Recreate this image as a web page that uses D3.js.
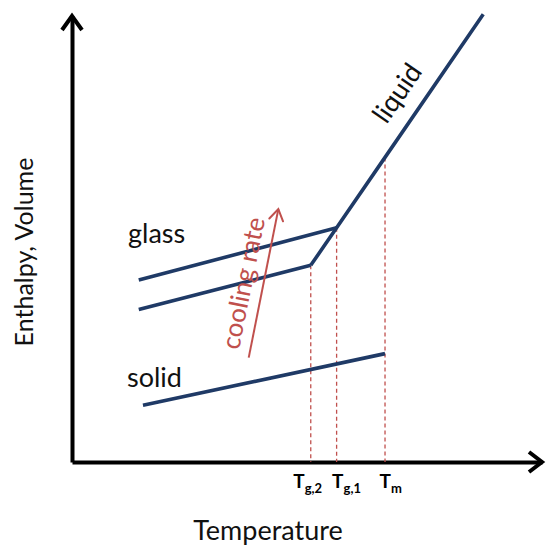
<!DOCTYPE html>
<html>
<head>
<meta charset="utf-8">
<script src="https://cdn.jsdelivr.net/npm/d3@7"></script>
<style>
  html, body { margin: 0; padding: 0; background: #fff; }
  svg { display: block; font-family: Lato, "Open Sans", sans-serif; }
</style>
</head>
<body>
<svg id="chart" width="546" height="546"></svg>
<script>
// Schematic enthalpy / volume vs. temperature for a glass-forming melt.
// Units are arbitrary (0-100 on both axes).

// Characteristic temperatures marked on the x axis
const tickTemps  = [50.8, 56.3, 66.6];
const tickMain   = ["T", "T", "T"];
const tickSub    = ["g,2", "g,1", "m"];

// Liquid branch (supercooled below Tm)
const liquidT = [50.8, 56.3, 66.6, 87.5];
const liquidH = [44.1, 52.5, 68.3, 100.4];

// Glass formed on fast cooling (higher Tg)
const glassFastT = [14.2, 50.8];
const glassFastH = [34.2, 44.1];

// Glass formed on slow cooling
const glassSlowT = [14.2, 56.3];
const glassSlowH = [40.8, 52.5];

// Crystalline solid
const solidT = [15.1, 66.6];
const solidH = [12.7, 24.3];

// Enthalpy at which each dashed guide leaves the curve (Tg,2, Tg,1, Tm)
const guideH = [44.1, 52.5, 68.3];

// "cooling rate" arrow, tail and head
const coolT = [37.6, 43.9];
const coolH = [23.4, 56.7];

const navy = "#1f3a66";
const red  = "#c0504d";

const svg = d3.select("#chart");

const x = d3.scaleLinear().domain([0, 100]).range([72, 542]);
const y = d3.scaleLinear().domain([0, 100]).range([462, 16]);

// ---- axes ----
const xAxisG = svg.append("g")
  .attr("transform", `translate(0,${y(0)})`)
  .call(d3.axisBottom(x).tickValues(tickTemps).tickSize(0).tickSizeOuter(0).tickFormat(""));
xAxisG.select(".domain").attr("stroke", "#000").attr("stroke-width", 4);

const yAxisG = svg.append("g")
  .attr("transform", `translate(${x(0)},0)`)
  .call(d3.axisLeft(y).tickValues([]).tickSizeOuter(0));
yAxisG.select(".domain").attr("stroke", "#000").attr("stroke-width", 4);

// arrowheads on the axes
svg.append("path")
  .attr("d", `M${x(100) - 13},${y(0) - 10} L${x(100)},${y(0)} L${x(100) - 13},${y(0) + 10}`)
  .attr("fill", "none").attr("stroke", "#000").attr("stroke-width", 4);
svg.append("path")
  .attr("d", `M${x(0) - 10},${y(100) + 14} L${x(0)},${y(100)} L${x(0) + 10},${y(100) + 14}`)
  .attr("fill", "none").attr("stroke", "#000").attr("stroke-width", 4);

// tick labels with subscripts
const labelNudge = [-18, -5, -6];
xAxisG.selectAll(".tick").each(function (d, i) {
  const t = d3.select(this).append("text")
    .attr("x", labelNudge[i])
    .attr("y", 26)
    .attr("fill", "#000")
    .attr("text-anchor", "start")
    .attr("font-family", "Lato, sans-serif")
    .attr("font-weight", "bold")
    .attr("font-size", 19);
  t.append("tspan").text(tickMain[i]);
  t.append("tspan").attr("dy", 5).attr("font-size", 13).text(tickSub[i]);
});

// axis titles
svg.append("text")
  .attr("x", 268).attr("y", 540)
  .attr("text-anchor", "middle")
  .attr("font-size", 27)
  .attr("fill", "#111")
  .text("Temperature");

svg.append("text")
  .attr("transform", "translate(33,252) rotate(-90)")
  .attr("text-anchor", "middle")
  .attr("font-size", 25)
  .attr("fill", "#111")
  .text("Enthalpy, Volume");

// ---- dashed guides down to the axis ----
svg.append("g").selectAll("line")
  .data(d3.zip(tickTemps, guideH))
  .join("line")
  .attr("x1", d => x(d[0])).attr("x2", d => x(d[0]))
  .attr("y1", d => y(d[1])).attr("y2", y(0))
  .attr("stroke", red)
  .attr("stroke-width", 1.3)
  .attr("stroke-dasharray", "4,3");

// ---- curves ----
const line = d3.line().x(d => x(d[0])).y(d => y(d[1]));
const curves = [
  d3.zip(liquidT, liquidH),
  d3.zip(glassFastT, glassFastH),
  d3.zip(glassSlowT, glassSlowH),
  d3.zip(solidT, solidH)
];
svg.append("g").selectAll("path")
  .data(curves)
  .join("path")
  .attr("d", line)
  .attr("fill", "none")
  .attr("stroke", navy)
  .attr("stroke-width", 3.6)
  .attr("stroke-linejoin", "round");

// ---- labels on the curves ----
svg.append("text")
  .attr("x", 128).attr("y", 243)
  .attr("font-size", 27).attr("fill", "#111")
  .text("glass");

svg.append("text")
  .attr("x", 127).attr("y", 387)
  .attr("font-size", 27).attr("fill", "#111")
  .text("solid");

// "liquid" follows the slope of the liquid line
const liqInterp = d3.scaleLinear()
  .domain([liquidT[0], liquidT[liquidT.length - 1]])
  .range([liquidH[0], liquidH[liquidH.length - 1]]);
const lx0 = x(liquidT[0]), ly0 = y(liquidH[0]);
const lx1 = x(liquidT[liquidT.length - 1]), ly1 = y(liquidH[liquidH.length - 1]);
const liqAngle = Math.atan2(ly1 - ly0, lx1 - lx0) * 180 / Math.PI;
const liqLabelT = 73.8;
svg.append("text")
  .attr("transform", `translate(${x(liqLabelT)},${y(liqInterp(liqLabelT))}) rotate(${liqAngle})`)
  .attr("y", -17)
  .attr("text-anchor", "middle")
  .attr("font-size", 27).attr("fill", "#111")
  .text("liquid");

// ---- cooling-rate arrow ----
const ax0 = x(coolT[0]), ay0 = y(coolH[0]);
const ax1 = x(coolT[1]), ay1 = y(coolH[1]);
const coolAngle = Math.atan2(ay1 - ay0, ax1 - ax0) * 180 / Math.PI;
const coolLen = Math.hypot(ax1 - ax0, ay1 - ay0);

const coolG = svg.append("g")
  .attr("transform", `translate(${ax0},${ay0}) rotate(${coolAngle})`);
coolG.append("line")
  .attr("x1", 0).attr("y1", 0).attr("x2", coolLen).attr("y2", 0)
  .attr("stroke", red).attr("stroke-width", 2);
coolG.append("path")
  .attr("d", `M${coolLen - 11},-7 L${coolLen},0 L${coolLen - 11},7`)
  .attr("fill", "none").attr("stroke", red).attr("stroke-width", 2)
  .attr("stroke-linecap", "round");
coolG.append("text")
  .attr("x", 72).attr("y", -11)
  .attr("text-anchor", "middle")
  .attr("font-size", 26)
  .attr("fill", red)
  .text("cooling rate");
</script>
</body>
</html>
